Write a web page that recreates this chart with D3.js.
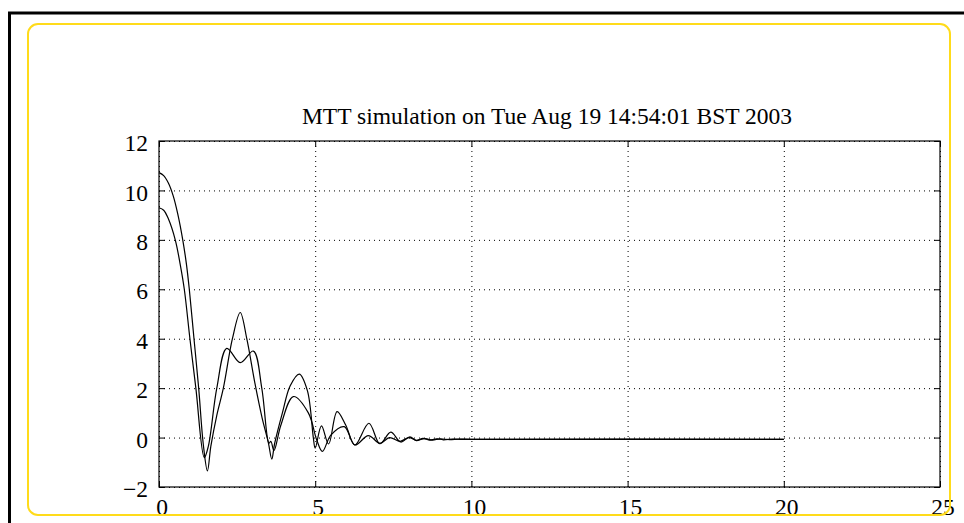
<!DOCTYPE html>
<html>
<head>
<meta charset="utf-8">
<script src="https://cdn.jsdelivr.net/npm/d3@7/dist/d3.min.js"></script>
<style>
  html, body { margin: 0; padding: 0; background: #fff; overflow: hidden; }
  text { font-family: "Liberation Serif", "Times New Roman", serif; }
</style>
</head>
<body>
<div id="chart"></div>
<script>
const titleText = 'MTT simulation on Tue Aug 19 14:54:01 BST 2003';

const xTicks = [0, 5, 10, 15, 20, 25];
const yTicks = [-2, 0, 2, 4, 6, 8, 10, 12];

// upper trace (starts near 10.7)
const traceA = [
  [0, 10.72], [0.15, 10.6], [0.3, 10.3], [0.45, 9.8], [0.6, 9.05], [0.76, 8.0],
  [0.88, 7.0], [0.97, 6.0], [1.12, 4.0], [1.27, 2.0], [1.42, -0.3], [1.55, -1.35],
  [1.66, -0.35], [1.85, 0.9], [2.06, 2.0], [2.35, 4.0], [2.6, 5.06], [2.81, 4.0],
  [3.07, 2.2], [3.3, 0.8], [3.5, -0.2], [3.61, -0.87], [3.7, -0.25], [3.95, 1.0],
  [4.2, 2.1], [4.49, 2.57], [4.75, 1.9], [4.94, 0.0], [5.0, -0.43], [5.2, 0.47],
  [5.43, -0.26], [5.7, 1.05], [5.98, 0.5], [6.27, -0.3], [6.72, 0.58], [7.07, -0.25],
  [7.42, 0.22], [7.74, -0.18], [8.03, 0.03], [8.24, -0.12], [8.45, -0.03], [8.67, -0.1],
  [8.9, -0.05], [9.1, -0.09], [9.4, -0.06], [9.7, -0.075], [10, -0.07], [20, -0.07]
];

// lower trace (starts near 9.3)
const traceB = [
  [0, 9.3], [0.15, 9.2], [0.3, 8.85], [0.52, 8.0], [0.68, 7.0], [0.81, 6.0],
  [0.99, 4.0], [1.18, 2.0], [1.45, -0.81], [1.58, -0.35], [1.85, 2.0], [2.17, 3.61],
  [2.6, 3.03], [3.02, 3.5], [3.29, 2.0], [3.52, -0.23], [3.58, -0.15], [3.68, -0.53],
  [3.9, 0.5], [4.3, 1.66], [4.78, 1.0], [5.05, -0.1], [5.23, -0.56], [5.5, 0.1],
  [5.93, 0.44], [6.27, -0.3], [6.7, 0.08], [7.07, -0.23], [7.38, 0.0], [7.72, -0.15],
  [8.0, 0.0], [8.25, -0.11], [8.5, -0.04], [8.75, -0.1], [9.0, -0.05], [9.3, -0.085],
  [9.6, -0.06], [10, -0.07], [20, -0.07]
];

const width = 964;
const height = 523;
const plotLeft = 159, plotRight = 940, plotTop = 141, plotBottom = 487;

const svg = d3.select('#chart')
  .append('svg')
  .attr('width', width)
  .attr('height', height);

// page frame
svg.append('path')
  .attr('d', `M9.5,${height} V13 H${width}`)
  .attr('fill', 'none')
  .attr('stroke', '#000')
  .attr('stroke-width', 3);

const x = d3.scaleLinear().domain([0, 25]).range([plotLeft, plotRight]);
const y = d3.scaleLinear().domain([-2, 12]).range([plotBottom, plotTop]);

// dotted grid
svg.append('g')
  .attr('transform', `translate(0,${plotBottom})`)
  .call(d3.axisBottom(x).tickValues(xTicks).tickSize(-(plotBottom - plotTop)).tickFormat(''))
  .call(g => g.select('.domain').remove())
  .selectAll('line')
  .attr('stroke', '#000')
  .attr('stroke-dasharray', '1,4');

svg.append('g')
  .attr('transform', `translate(${plotLeft},0)`)
  .call(d3.axisLeft(y).tickValues(yTicks).tickSize(-(plotRight - plotLeft)).tickFormat(''))
  .call(g => g.select('.domain').remove())
  .selectAll('line')
  .attr('stroke', '#000')
  .attr('stroke-dasharray', '1,4');

// plot box
svg.append('rect')
  .attr('x', plotLeft)
  .attr('y', plotTop)
  .attr('width', plotRight - plotLeft)
  .attr('height', plotBottom - plotTop)
  .attr('fill', 'none')
  .attr('stroke', '#000')
  .attr('stroke-width', 1.2);

// axes with inward ticks
const xAxis = svg.append('g')
  .attr('transform', `translate(0,${plotBottom})`)
  .call(d3.axisBottom(x).tickValues(xTicks).tickSizeInner(-6).tickSizeOuter(0).tickFormat(d3.format('d')));
xAxis.select('.domain').remove();
xAxis.selectAll('text')
  .attr('y', 28)
  .attr('dy', null)
  .attr('dx', 2.5)
  .attr('fill', '#000')
  .style('font-size', '23.5px');

const yAxis = svg.append('g')
  .attr('transform', `translate(${plotLeft},0)`)
  .call(d3.axisLeft(y).tickValues(yTicks).tickSizeInner(-6).tickSizeOuter(0));
yAxis.select('.domain').remove();
yAxis.selectAll('text')
  .attr('x', -11)
  .attr('y', 9.7)
  .attr('dy', null)
  .attr('fill', '#000')
  .style('font-size', '23.5px');

svg.append('g')
  .attr('transform', `translate(0,${plotTop})`)
  .call(d3.axisTop(x).tickValues(xTicks).tickSizeInner(-6).tickSizeOuter(0).tickFormat(''))
  .call(g => g.select('.domain').remove());

svg.append('g')
  .attr('transform', `translate(${plotRight},0)`)
  .call(d3.axisRight(y).tickValues(yTicks).tickSizeInner(-6).tickSizeOuter(0).tickFormat(''))
  .call(g => g.select('.domain').remove());

svg.selectAll('.tick line').filter(function() {
  return !this.getAttribute('stroke-dasharray');
}).attr('stroke', '#000');

// traces
const line = d3.line()
  .x(d => x(d[0]))
  .y(d => y(d[1]))
  .curve(d3.curveCatmullRom.alpha(0.5));

[traceA, traceB].forEach(function(trace) {
  svg.append('path')
    .datum(trace)
    .attr('d', line)
    .attr('fill', 'none')
    .attr('stroke', '#000')
    .attr('stroke-width', 1.2);
});

// title
svg.append('text')
  .attr('x', 547)
  .attr('y', 124)
  .attr('text-anchor', 'middle')
  .style('font-size', '23.5px')
  .text(titleText);

// yellow slide frame
svg.append('rect')
  .attr('x', 28)
  .attr('y', 24)
  .attr('width', 922)
  .attr('height', 491)
  .attr('rx', 10)
  .attr('fill', 'none')
  .attr('stroke', '#ffdb1a')
  .attr('stroke-width', 2);
</script>
</body>
</html>
